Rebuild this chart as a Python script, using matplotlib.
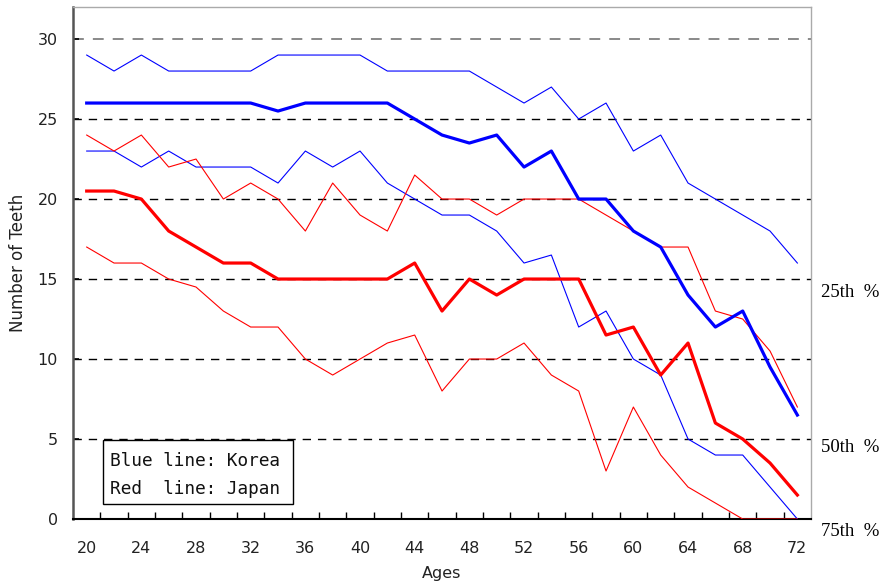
import numpy as np
import matplotlib.pyplot as plt
from matplotlib.patches import Rectangle

ages = list(range(20, 73, 2))

korea_upper = [29, 28, 29, 28, 28, 28, 28, 29, 29, 29, 29, 28, 28, 28,
               28, 27, 26, 27, 25, 26, 23, 24, 21, 20, 19, 18, 16]
korea_median = [26, 26, 26, 26, 26, 26, 26, 25.5, 26, 26, 26, 26, 25, 24,
                23.5, 24, 22, 23, 20, 20, 18, 17, 14, 12, 13, 9.5, 6.5]
korea_lower = [23, 23, 22, 23, 22, 22, 22, 21, 23, 22, 23, 21, 20, 19,
               19, 18, 16, 16.5, 12, 13, 10, 9, 5, 4, 4, 2, 0]

japan_upper = [24, 23, 24, 22, 22.5, 20, 21, 20, 18, 21, 19, 18, 21.5, 20,
               20, 19, 20, 20, 20, 19, 18, 17, 17, 13, 12.5, 10.5, 7]
japan_median = [20.5, 20.5, 20, 18, 17, 16, 16, 15, 15, 15, 15, 15, 16, 13,
                15, 14, 15, 15, 15, 11.5, 12, 9, 11, 6, 5, 3.5, 1.5]
japan_lower = [17, 16, 16, 15, 14.5, 13, 12, 12, 10, 9, 10, 11, 11.5, 8,
               10, 10, 11, 9, 8, 3, 7, 4, 2, 1, 0, 0, 0]

legend_lines = ["Blue line: Korea", "Red  line: Japan"]
pct_labels = ["25th  %", "50th  %", "75th  %"]
pct_label_y = [14.15, 4.45, -0.8]

fig = plt.figure(figsize=(8.83, 5.87), dpi=100)
ax = fig.add_axes([0.0827, 0.1158, 0.8358, 0.8722])

# dashed horizontal guides, the top one drawn lighter
for v in range(5, 31, 5):
    col = "#808080" if v == 30 else "black"
    ax.axhline(v, color=col, lw=1.0 if v < 30 else 1.3, ls=(0, (6, 5)), zorder=1)

ax.plot(ages, korea_upper, color="blue", lw=0.8, zorder=3)
ax.plot(ages, korea_lower, color="blue", lw=0.8, zorder=3)
ax.plot(ages, japan_upper, color="red", lw=0.8, zorder=3)
ax.plot(ages, japan_lower, color="red", lw=0.8, zorder=3)
ax.plot(ages, korea_median, color="blue", lw=2.3, zorder=4)
ax.plot(ages, japan_median, color="red", lw=2.3, zorder=4)

ax.set_xlim(19, 73)
ax.set_ylim(0, 32)
ax.set_xticks(range(20, 73, 4))
ax.set_xticks(range(21, 73, 2), minor=True)
ax.set_yticks(range(0, 31, 5))
ax.tick_params(axis="x", which="major", length=0, labelsize=11.5, pad=16,
               labelcolor="#222222")
ax.tick_params(axis="x", which="minor", direction="in", length=5, width=1)
ax.tick_params(axis="y", direction="in", length=4, width=1.2, labelsize=11.5,
               pad=11, labelcolor="#222222")

for side in ["top", "right"]:
    ax.spines[side].set_color("#aaaaaa")
    ax.spines[side].set_linewidth(1.0)
ax.spines["left"].set_color("#555555")
ax.spines["left"].set_linewidth(1.8)
ax.spines["bottom"].set_color("black")
ax.spines["bottom"].set_linewidth(1.5)

ax.set_xlabel("Ages", fontsize=11.5, labelpad=7, color="#222222")
ax.set_ylabel("Number of Teeth", fontsize=12, color="#222222")
ax.yaxis.set_label_coords(-0.062, 0.5)

# framed key in the lower left corner
ax.add_patch(Rectangle((21.17, 0.94), 13.9, 4.0, fc="white", ec="black",
                       lw=1.0, zorder=6))
for i, line in enumerate(legend_lines):
    ax.text(21.7, 3.6 - i * 1.7, line, family="DejaVu Sans Mono",
            fontsize=12.8, va="center", ha="left", color="#111111", zorder=7)

for lab, yv in zip(pct_labels, pct_label_y):
    ax.text(73.7, yv, lab, family="Liberation Serif", fontsize=13.5,
            va="center", ha="left", clip_on=False)

fig.savefig("out.png", dpi=100)
